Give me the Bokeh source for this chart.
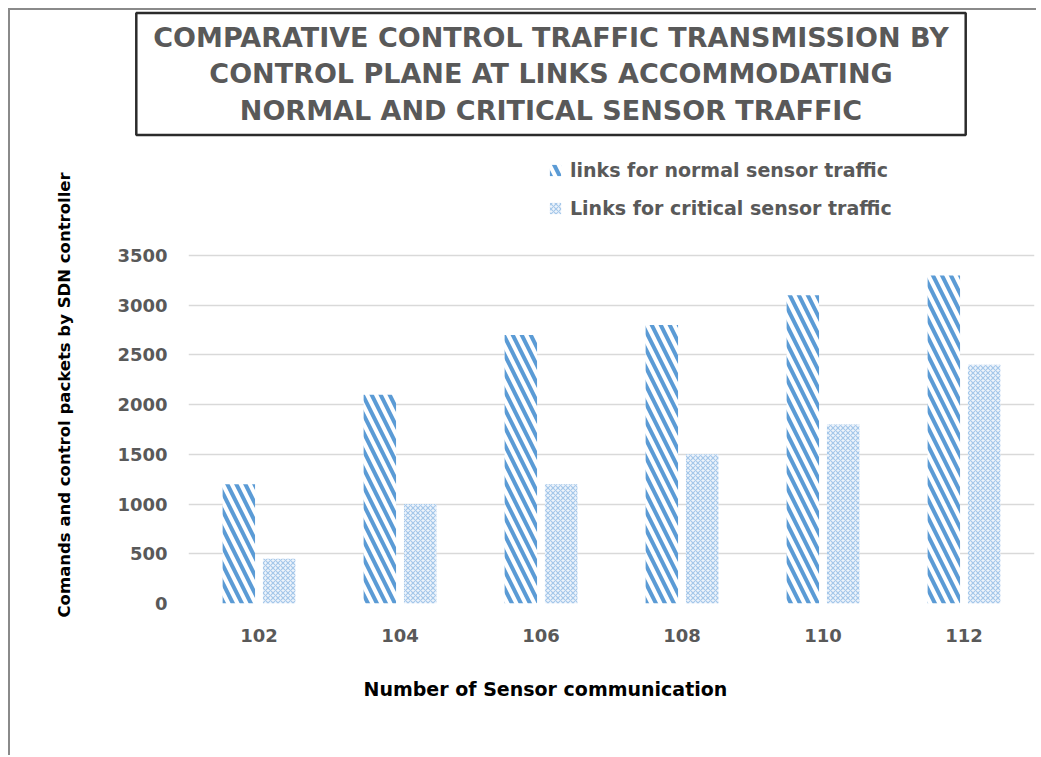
from bokeh.plotting import figure
from bokeh.layouts import column
from bokeh.models import (FactorRange, Range1d, FixedTicker, Legend, LegendItem,
                          Title, Label, ColumnDataSource)
from bokeh.transform import dodge
from bokeh.embed import file_html
from bokeh.resources import INLINE

# ---- data ----
categories = ["102", "104", "106", "108", "110", "112"]
normal_traffic = [1200, 2100, 2700, 2800, 3100, 3300]
critical_traffic = [450, 1000, 1200, 1500, 1800, 2400]
y_ticks = [0, 500, 1000, 1500, 2000, 2500, 3000, 3500]
series_names = ["links for normal sensor traffic", "Links for critical sensor traffic"]
title_text = ("COMPARATIVE CONTROL TRAFFIC TRANSMISSION BY\n"
              "CONTROL PLANE AT LINKS ACCOMMODATING\n"
              "NORMAL AND CRITICAL SENSOR TRAFFIC")
x_title = "Number of Sensor communication"
y_title = "Comands and control packets by SDN controller"

FONT = "DejaVu Sans"
GREY = "#595959"

# ---- layout (page pixels; content starts at page 10,10) ----
OX, OY = 10, 10
W = 1026
TH = 140                      # title strip height (page 10..150)
CH = 605                      # chart height (page 150..755)
PAGE_FL, PAGE_FR, PAGE_FT, PAGE_FB = 188, 1034, 150, 603
PAGE_Y3500 = 255
y_end = 3500 * (PAGE_FB - PAGE_FT) / (PAGE_FB - PAGE_Y3500)

# ---- title strip ----
t = figure(width=W, height=TH, x_range=Range1d(0, W), y_range=Range1d(0, TH),
           output_backend="svg", toolbar_location=None, min_border=0)
t.frame_align = False
t.axis.visible = False
t.grid.visible = False
t.outline_line_color = None
t.border_fill_color = "white"
t.add_layout(Label(x=550.5 - OX, y=TH - (73.5 - OY), x_units="screen", y_units="screen",
                   text=title_text, text_align="center", text_baseline="middle",
                   text_font=FONT, text_font_style="bold", text_font_size="27px",
                   text_color=GREY, text_line_height=1.18,
                   background_fill_color="white", border_line_color="#2b2b2b",
                   border_line_width=2.5,
                   padding=dict(left=17, right=17, top=9, bottom=9)))

# ---- chart ----
src = ColumnDataSource(dict(cat=categories, normal=normal_traffic, critical=critical_traffic))

p = figure(width=W, height=CH, x_range=FactorRange(factors=categories, range_padding=0),
           y_range=Range1d(0, y_end), output_backend="svg", toolbar_location=None,
           min_border_left=PAGE_FL - OX, min_border_right=OX + W - PAGE_FR,
           min_border_top=0, min_border_bottom=PAGE_FT + CH - PAGE_FB)
p.frame_align = False
p.outline_line_color = None
p.background_fill_color = "white"
p.border_fill_color = "white"

r1 = p.vbar(x=dodge("cat", -0.143, range=p.x_range), top="normal", width=0.23, source=src,
            fill_color="white", line_color=None, hatch_pattern="left_diagonal_line",
            hatch_color="#5b9bd5", hatch_weight=4, hatch_scale=18)
r2 = p.vbar(x=dodge("cat", 0.143, range=p.x_range), top="critical", width=0.23, source=src,
            fill_color="#eef4fb", line_color=None, hatch_pattern="diagonal_cross",
            hatch_color="#a6c8ea", hatch_weight=1.2, hatch_scale=5)

p.xgrid.grid_line_color = None
p.ygrid.grid_line_color = "#d9d9d9"
p.ygrid.grid_line_width = 1.5

p.yaxis.ticker = FixedTicker(ticks=y_ticks)
for ax in (p.xaxis[0], p.yaxis[0]):
    ax.axis_line_color = None
    ax.major_tick_line_color = None
    ax.minor_tick_line_color = None
    ax.major_tick_out = 0
    ax.major_tick_in = 0
    ax.major_label_text_font = FONT
    ax.major_label_text_font_style = "bold"
    ax.major_label_text_font_size = "18px"
    ax.major_label_text_color = GREY
p.yaxis.major_label_standoff = 21
p.xaxis.major_label_standoff = 25

p.add_layout(Title(text=y_title, align="left", offset=-14, text_font=FONT,
                   text_font_style="bold", text_font_size="16.5px",
                   text_color="black", standoff=82), "left")
p.add_layout(Title(text=x_title, align="left", offset=175, text_font=FONT,
                   text_font_style="bold", text_font_size="19px",
                   text_color="black", standoff=62), "below")

legend = Legend(items=[LegendItem(label=series_names[0], renderers=[r1]),
                       LegendItem(label=series_names[1], renderers=[r2])],
                location=(548 - PAGE_FL, PAGE_FB - 219), orientation="vertical",
                glyph_width=14, glyph_height=14, label_standoff=8, spacing=16,
                label_height=20, padding=0, margin=0, border_line_color=None,
                background_fill_alpha=0, label_text_font=FONT,
                label_text_font_style="bold", label_text_font_size="19px",
                label_text_color=GREY)
p.add_layout(legend)

layout = column(t, p, spacing=0)
layout.styles = {"margin-left": "8px", "margin-top": "8px",
                 "border-left": "2px solid #8a8a8a", "border-top": "2px solid #8a8a8a"}

open("out.html", "w").write(file_html(layout, INLINE))
